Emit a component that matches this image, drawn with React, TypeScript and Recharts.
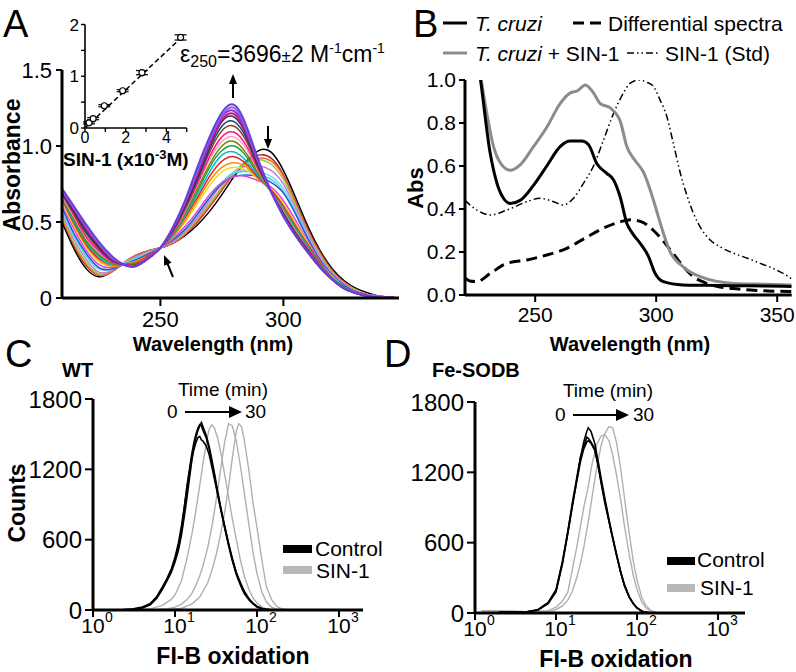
import React from 'react';
import { LineChart, Line, XAxis, YAxis, ComposedChart, Scatter, ErrorBar } from 'recharts';

const FONT = '"Liberation Sans", Arial, Helvetica, sans-serif';

// ---- Panel A: SIN-1 spectra over time (absorbance vs wavelength) ----
const A_WL = [210, 215, 220, 225, 230, 235, 240, 245, 250, 255, 260, 265, 270, 275, 280, 285, 290, 295, 300, 305, 310, 315, 320, 325, 330, 335, 340, 345];
const A_S00 = [0.50, 0.32, 0.19, 0.14, 0.17, 0.23, 0.28, 0.31, 0.33, 0.36, 0.41, 0.48, 0.57, 0.68, 0.80, 0.90, 0.97, 0.96, 0.84, 0.66, 0.47, 0.31, 0.19, 0.11, 0.06, 0.03, 0.01, 0.005];
const A_S01 = [0.52, 0.34, 0.21, 0.15, 0.17, 0.23, 0.28, 0.31, 0.33, 0.36, 0.42, 0.50, 0.60, 0.71, 0.82, 0.90, 0.94, 0.92, 0.81, 0.63, 0.45, 0.30, 0.18, 0.10, 0.05, 0.02, 0.01, 0.005];
const A_S02 = [0.53, 0.35, 0.22, 0.15, 0.17, 0.23, 0.28, 0.31, 0.33, 0.36, 0.42, 0.51, 0.61, 0.72, 0.82, 0.89, 0.92, 0.90, 0.80, 0.62, 0.44, 0.29, 0.17, 0.10, 0.05, 0.02, 0.01, 0.0];
const A_S03 = [0.54, 0.36, 0.23, 0.16, 0.18, 0.23, 0.27, 0.30, 0.33, 0.37, 0.43, 0.52, 0.62, 0.73, 0.83, 0.89, 0.91, 0.88, 0.78, 0.61, 0.43, 0.28, 0.17, 0.09, 0.05, 0.02, 0.01, 0.0];
const A_S04 = [0.56, 0.38, 0.25, 0.17, 0.18, 0.23, 0.27, 0.30, 0.33, 0.37, 0.44, 0.53, 0.64, 0.75, 0.83, 0.87, 0.87, 0.84, 0.75, 0.59, 0.42, 0.27, 0.16, 0.09, 0.04, 0.02, 0.01, 0.0];
const A_S05 = [0.58, 0.40, 0.27, 0.19, 0.19, 0.23, 0.26, 0.30, 0.33, 0.38, 0.45, 0.55, 0.66, 0.76, 0.83, 0.84, 0.83, 0.80, 0.72, 0.57, 0.40, 0.26, 0.15, 0.08, 0.04, 0.02, 0.01, 0.0];
const A_S06 = [0.59, 0.41, 0.28, 0.20, 0.19, 0.22, 0.26, 0.29, 0.33, 0.38, 0.45, 0.55, 0.66, 0.76, 0.82, 0.83, 0.81, 0.78, 0.70, 0.56, 0.39, 0.25, 0.15, 0.08, 0.04, 0.02, 0.01, 0.0];
const A_S07 = [0.60, 0.42, 0.29, 0.20, 0.19, 0.22, 0.25, 0.29, 0.33, 0.38, 0.45, 0.55, 0.66, 0.75, 0.80, 0.81, 0.80, 0.76, 0.69, 0.55, 0.39, 0.25, 0.15, 0.08, 0.04, 0.02, 0.01, 0.0];
const A_S08 = [0.62, 0.45, 0.31, 0.22, 0.20, 0.22, 0.24, 0.28, 0.33, 0.39, 0.47, 0.57, 0.68, 0.76, 0.80, 0.80, 0.77, 0.73, 0.64, 0.51, 0.37, 0.24, 0.14, 0.07, 0.04, 0.02, 0.01, 0.0];
const A_S09 = [0.63, 0.47, 0.33, 0.24, 0.21, 0.22, 0.24, 0.28, 0.33, 0.40, 0.50, 0.62, 0.74, 0.83, 0.86, 0.84, 0.78, 0.72, 0.62, 0.49, 0.36, 0.23, 0.14, 0.07, 0.03, 0.01, 0.0, 0.0];
const A_S10 = [0.64, 0.48, 0.34, 0.25, 0.21, 0.22, 0.24, 0.28, 0.33, 0.40, 0.51, 0.64, 0.77, 0.86, 0.89, 0.86, 0.78, 0.71, 0.61, 0.48, 0.35, 0.23, 0.13, 0.07, 0.03, 0.01, 0.0, 0.0];
const A_S11 = [0.65, 0.49, 0.35, 0.26, 0.22, 0.22, 0.23, 0.28, 0.33, 0.41, 0.53, 0.66, 0.80, 0.90, 0.93, 0.88, 0.79, 0.71, 0.60, 0.47, 0.35, 0.23, 0.13, 0.07, 0.03, 0.01, 0.0, 0.0];
const A_S12 = [0.65, 0.50, 0.36, 0.27, 0.22, 0.22, 0.23, 0.27, 0.33, 0.41, 0.54, 0.68, 0.83, 0.94, 0.96, 0.90, 0.80, 0.70, 0.59, 0.46, 0.34, 0.22, 0.13, 0.07, 0.03, 0.01, 0.0, 0.0];
const A_S13 = [0.66, 0.51, 0.37, 0.28, 0.23, 0.22, 0.23, 0.27, 0.33, 0.42, 0.55, 0.70, 0.86, 0.97, 1.00, 0.93, 0.81, 0.70, 0.58, 0.45, 0.33, 0.22, 0.13, 0.07, 0.03, 0.01, 0.0, 0.0];
const A_S14 = [0.66, 0.52, 0.38, 0.29, 0.23, 0.22, 0.23, 0.27, 0.33, 0.42, 0.56, 0.72, 0.88, 1.00, 1.03, 0.95, 0.82, 0.70, 0.57, 0.44, 0.33, 0.21, 0.12, 0.06, 0.03, 0.01, 0.0, 0.0];
const A_S15 = [0.67, 0.53, 0.39, 0.30, 0.24, 0.22, 0.22, 0.27, 0.33, 0.43, 0.57, 0.74, 0.91, 1.03, 1.06, 0.98, 0.83, 0.70, 0.57, 0.44, 0.32, 0.21, 0.12, 0.06, 0.03, 0.01, 0.0, 0.0];
const A_S16 = [0.68, 0.54, 0.40, 0.31, 0.24, 0.22, 0.22, 0.27, 0.33, 0.43, 0.58, 0.75, 0.93, 1.06, 1.09, 1.00, 0.84, 0.70, 0.56, 0.43, 0.32, 0.21, 0.12, 0.06, 0.03, 0.01, 0.0, 0.0];
const A_S17 = [0.69, 0.55, 0.42, 0.32, 0.25, 0.22, 0.22, 0.26, 0.33, 0.44, 0.59, 0.77, 0.96, 1.10, 1.13, 1.03, 0.85, 0.70, 0.56, 0.43, 0.31, 0.21, 0.12, 0.06, 0.03, 0.01, 0.0, 0.0];
const A_S18 = [0.69, 0.56, 0.43, 0.33, 0.25, 0.22, 0.21, 0.26, 0.33, 0.44, 0.60, 0.78, 0.98, 1.13, 1.16, 1.05, 0.86, 0.70, 0.55, 0.42, 0.31, 0.20, 0.12, 0.06, 0.03, 0.01, 0.0, 0.0];
const A_S19 = [0.70, 0.57, 0.44, 0.34, 0.26, 0.22, 0.21, 0.26, 0.33, 0.45, 0.61, 0.80, 1.00, 1.16, 1.19, 1.07, 0.87, 0.70, 0.55, 0.42, 0.31, 0.20, 0.12, 0.06, 0.03, 0.01, 0.0, 0.0];
const A_S20 = [0.70, 0.58, 0.45, 0.35, 0.26, 0.22, 0.21, 0.26, 0.33, 0.45, 0.62, 0.81, 1.01, 1.17, 1.21, 1.08, 0.88, 0.70, 0.54, 0.41, 0.30, 0.20, 0.12, 0.06, 0.03, 0.01, 0.0, 0.0];
const A_S21 = [0.71, 0.59, 0.46, 0.36, 0.27, 0.22, 0.21, 0.26, 0.33, 0.46, 0.63, 0.83, 1.03, 1.19, 1.23, 1.10, 0.89, 0.70, 0.54, 0.41, 0.30, 0.20, 0.12, 0.06, 0.03, 0.01, 0.0, 0.0];
const A_S22 = [0.71, 0.59, 0.47, 0.36, 0.27, 0.22, 0.21, 0.26, 0.33, 0.46, 0.63, 0.84, 1.04, 1.20, 1.25, 1.11, 0.89, 0.70, 0.54, 0.41, 0.30, 0.20, 0.12, 0.06, 0.03, 0.01, 0.0, 0.0];
const A_S23 = [0.72, 0.60, 0.48, 0.37, 0.28, 0.22, 0.21, 0.26, 0.33, 0.46, 0.64, 0.86, 1.06, 1.22, 1.27, 1.13, 0.90, 0.70, 0.54, 0.41, 0.30, 0.20, 0.12, 0.06, 0.03, 0.01, 0.0, 0.0];
const A_SERIES = [A_S00, A_S01, A_S02, A_S03, A_S04, A_S05, A_S06, A_S07, A_S08, A_S09, A_S10, A_S11, A_S12, A_S13, A_S14, A_S15, A_S16, A_S17, A_S18, A_S19, A_S20, A_S21, A_S22, A_S23];
const A_COLORS = ['#000000', '#b22222', '#ff6347', '#9acd32', '#c080e0', '#87cefa', '#40e0d0', '#3050e0', '#e040e0', '#f0e020', '#ff8c00', '#e02020', '#00bcd4', '#20a040', '#808000', '#f4a0c0', '#ff1493', '#8b4513', '#1e3a8a', '#303030', '#c71585', '#9b30d0', '#7b68ee', '#6a3fd8'];

// inset: absorbance at 250 nm vs [SIN-1]
const INSET_CONC = [0.2, 0.4, 0.95, 1.85, 2.8, 4.7];
const INSET_ABS = [0.1, 0.18, 0.43, 0.72, 1.07, 1.75];
const INSET_ERR = [0.02, 0.02, 0.02, 0.02, 0.04, 0.05];
const FIT_CONC = [0, 4.8];
const FIT_ABS = [0, 1.77];

// ---- Panel B ----
const B_TC_WL = [221, 224, 227.3, 231.4, 234.2, 236.9, 239.7, 243.8, 249.3, 254.8, 260.3, 264.5, 269.3, 272, 275.5, 279.6, 282.4, 285.1, 287.9, 290, 293.4, 296.8, 299.6, 303, 311, 320, 332, 345, 356];
const B_TC_ABS = [1.6, 1.25, 1.01, 0.66, 0.52, 0.45, 0.426, 0.44, 0.51, 0.60, 0.69, 0.716, 0.716, 0.70, 0.61, 0.566, 0.535, 0.457, 0.333, 0.29, 0.24, 0.18, 0.10, 0.062, 0.047, 0.045, 0.043, 0.042, 0.04];
const B_TS_WL = [221, 225, 228, 230, 232.8, 236.2, 239.7, 243.8, 249.3, 254.8, 260.3, 264.5, 267.5, 270.7, 274.1, 276.9, 281, 285.1, 287.9, 291, 294.8, 298.9, 301, 305.8, 311.3, 318.2, 332, 345, 356];
const B_TS_ABS = [1.6, 1.2, 0.98, 0.845, 0.69, 0.605, 0.58, 0.605, 0.69, 0.78, 0.89, 0.94, 0.95, 0.977, 0.94, 0.89, 0.87, 0.81, 0.69, 0.63, 0.57, 0.44, 0.36, 0.2, 0.13, 0.085, 0.054, 0.05, 0.047];
const B_DIFF_WL = [221, 223, 225.9, 231.4, 238.3, 246.6, 254.8, 263.1, 271.4, 279.6, 285, 289.3, 294, 298.9, 303, 307.2, 311, 315.4, 320, 325, 332, 338.8, 346, 356];
const B_DIFF_ABS = [0.08, 0.065, 0.062, 0.10, 0.147, 0.163, 0.186, 0.217, 0.27, 0.318, 0.34, 0.35, 0.34, 0.30, 0.25, 0.19, 0.135, 0.085, 0.058, 0.04, 0.03, 0.023, 0.019, 0.016];
const B_STD_WL = [221, 225.9, 231.4, 238.3, 246.6, 252, 257.6, 261.7, 265.8, 270, 274.1, 278.2, 282.4, 286.5, 289.3, 293, 296, 298.9, 301.5, 304.4, 307, 309.9, 312.5, 315.4, 318.5, 322.3, 327, 332, 338, 343, 348, 354, 356];
const B_STD_ABS = [0.44, 0.395, 0.372, 0.395, 0.434, 0.45, 0.434, 0.419, 0.45, 0.52, 0.60, 0.72, 0.845, 0.94, 0.985, 1.0, 0.99, 0.97, 0.91, 0.83, 0.71, 0.57, 0.47, 0.38, 0.31, 0.256, 0.22, 0.194, 0.17, 0.147, 0.125, 0.09, 0.075];

// ---- Panel C (WT) flow cytometry histograms ----
const C_CTRL_FL = [2, 3, 4, 5, 6, 7, 8, 9, 10, 11, 12, 13, 14, 15, 16, 17, 18, 19, 20, 21, 22, 24, 26, 28, 30, 33, 36, 40, 45, 50, 56, 63, 70, 80, 90, 100, 115, 130, 150];
const C_CTRL1 = [0, 5, 20, 50, 110, 190, 260, 340, 430, 540, 680, 880, 1060, 1200, 1330, 1430, 1500, 1550, 1580, 1570, 1530, 1470, 1380, 1260, 1160, 1000, 870, 720, 560, 430, 310, 220, 150, 90, 55, 30, 12, 5, 0];
const C_CTRL2 = [0, 8, 25, 55, 115, 195, 270, 350, 450, 570, 720, 880, 1040, 1180, 1290, 1370, 1430, 1470, 1480, 1450, 1440, 1400, 1330, 1230, 1130, 990, 860, 710, 550, 420, 300, 210, 140, 85, 50, 25, 10, 4, 0];
const C_CTRL3 = [0, 4, 18, 45, 100, 175, 250, 320, 410, 510, 640, 800, 960, 1120, 1270, 1390, 1470, 1530, 1570, 1600, 1560, 1490, 1400, 1290, 1180, 1020, 880, 730, 570, 440, 320, 230, 160, 95, 55, 30, 12, 5, 0];
const C_SIN_A_FL = [3, 5, 7, 9, 10, 12, 14, 16, 18, 20, 22, 24, 26, 28, 30, 33, 36, 40, 45, 50, 56, 63, 70, 80, 90, 100, 115, 130, 150, 175];
const C_SIN_A = [0, 10, 40, 90, 130, 250, 440, 640, 850, 1060, 1260, 1420, 1540, 1580, 1560, 1470, 1350, 1170, 960, 780, 600, 420, 290, 170, 100, 60, 25, 10, 3, 0];
const C_SIN_B_FL = [5, 8, 10, 12, 14, 16, 18, 20, 22, 25, 28, 32, 36, 40, 45, 50, 56, 63, 70, 80, 90, 100, 115, 130, 150, 175, 200];
const C_SIN_B = [0, 10, 25, 50, 90, 140, 210, 290, 380, 530, 700, 950, 1200, 1420, 1590, 1570, 1440, 1220, 1000, 720, 480, 310, 150, 70, 25, 8, 0];
const C_SIN_C_FL = [8, 12, 16, 20, 25, 28, 32, 36, 40, 45, 50, 56, 60, 65, 70, 80, 90, 100, 115, 130, 150, 175, 200, 250];
const C_SIN_C = [0, 15, 50, 110, 230, 330, 480, 650, 820, 1050, 1300, 1530, 1590, 1560, 1450, 1180, 900, 700, 420, 200, 90, 30, 10, 0];

// ---- Panel D (Fe-SODB) ----
const D_CTRL_FL = [2, 4, 6, 8, 10, 12, 14, 16, 18, 20, 22, 24, 25, 27, 30, 33, 36, 40, 45, 50, 56, 63, 70, 80, 90, 100, 115, 130, 150];
const D_CTRL1 = [10, 5, 25, 80, 180, 420, 680, 920, 1130, 1320, 1460, 1550, 1580, 1550, 1450, 1300, 1150, 980, 800, 650, 500, 350, 240, 140, 80, 45, 15, 5, 0];
const D_CTRL2 = [10, 5, 25, 85, 190, 430, 690, 930, 1120, 1290, 1400, 1460, 1470, 1450, 1390, 1260, 1110, 940, 780, 640, 490, 340, 230, 135, 78, 42, 15, 5, 0];
const D_CTRL3 = [10, 5, 30, 90, 200, 440, 700, 950, 1150, 1330, 1420, 1500, 1490, 1460, 1400, 1270, 1120, 960, 790, 640, 490, 345, 235, 138, 78, 43, 15, 5, 0];
const D_SIN_FL = [1.2, 3, 5, 8, 10, 12, 14, 16, 18, 20, 22, 25, 28, 32, 36, 40, 45, 50, 56, 63, 70, 80, 90, 100, 115, 130, 150, 175, 200];
const D_SIN_A = [20, 15, 10, 20, 50, 100, 180, 380, 560, 740, 900, 1080, 1280, 1440, 1510, 1520, 1470, 1350, 1170, 960, 740, 500, 320, 200, 90, 40, 15, 5, 0];
const D_SIN_B = [20, 15, 10, 10, 30, 60, 110, 190, 300, 420, 560, 780, 1000, 1250, 1430, 1530, 1590, 1580, 1450, 1230, 980, 680, 440, 280, 130, 60, 20, 5, 0];

const zip = (xs: number[], ys: number[]) => xs.map((x, i) => ({ x, y: ys[i] }));

const aRows = A_WL.map((x, i) => {
  const row: Record<string, number> = { x };
  A_SERIES.forEach((s, k) => { row['s' + k] = s[i]; });
  return row;
});
const insetPts = INSET_CONC.map((x, i) => ({ x, y: INSET_ABS[i], err: INSET_ERR[i] }));

const axisThick = { stroke: '#000', strokeWidth: 3 };
const tickThick = { stroke: '#000', strokeWidth: 2 };

const PowTick = (props: any) => {
  const { x, y, payload } = props;
  const e = Math.round(Math.log10(payload.value));
  return (
    <g>
      <text x={x} y={y + 14} textAnchor="middle" fontSize={21} fontFamily={FONT} fill="#000">10</text>
      <text x={x + 12} y={y + 3} fontSize={14} fontFamily={FONT} fill="#000">{e}</text>
    </g>
  );
};

function Arrow({ x1, y1, x2, y2, len = 10, half = 4, w = 2 }: any) {
  const dx = x2 - x1, dy = y2 - y1;
  const d = Math.hypot(dx, dy);
  const ux = dx / d, uy = dy / d;
  const bx = x2 - ux * len, by = y2 - uy * len;
  const pts = `${x2},${y2} ${bx - uy * half},${by + ux * half} ${bx + uy * half},${by - ux * half}`;
  return (
    <g>
      <line x1={x1} y1={y1} x2={bx + ux} y2={by + uy} stroke="#000" strokeWidth={w} />
      <polygon points={pts} fill="#000" />
    </g>
  );
}

function Histogram({ left, top, width, height, margin, domainMax, ctrl, sin }: any) {
  return (
    <div style={{ position: 'absolute', left, top }}>
      <LineChart width={width} height={height} margin={margin}>
        <XAxis type="number" dataKey="x" scale="log" domain={[1, domainMax]} allowDataOverflow
          ticks={[1, 10, 100, 1000]} tick={<PowTick />} axisLine={axisThick} tickLine={tickThick}
          tickSize={7} tickMargin={2} height={30} />
        <YAxis type="number" domain={[0, 1800]} ticks={[0, 600, 1200, 1800]} width={60}
          axisLine={axisThick} tickLine={tickThick} tickSize={8} tickMargin={3}
          tick={{ fill: '#000', fontSize: 24, fontFamily: FONT }} />
        {sin.map((d: any, i: number) => (
          <Line key={'s' + i} data={d} dataKey="y" type="linear" stroke="#b0b0b0" strokeWidth={1.4} dot={false} isAnimationActive={false} />
        ))}
        {ctrl.map((d: any, i: number) => (
          <Line key={'c' + i} data={d} dataKey="y" type="linear" stroke="#000" strokeWidth={1.6} dot={false} isAnimationActive={false} />
        ))}
      </LineChart>
    </div>
  );
}

export default function App() {
  return (
    <div style={{ position: 'absolute', left: 0, top: 0, width: 796, height: 672, background: '#fff', overflow: 'hidden', fontFamily: FONT }}>
      {/* Panel A main */}
      <div style={{ position: 'absolute', left: 0, top: 0 }}>
        <LineChart width={400} height={354} data={aRows} margin={{ top: 70, right: 1, left: 12, bottom: 0 }}>
          <XAxis type="number" dataKey="x" domain={[210, 347]} ticks={[250, 300]} allowDataOverflow
            axisLine={axisThick} tickLine={tickThick} tickSize={8} tickMargin={5} height={56}
            tick={{ fill: '#000', fontSize: 22, fontFamily: FONT }} />
          <YAxis type="number" domain={[0, 1.5]} ticks={[0, 0.5, 1, 1.5]} width={50}
            tickFormatter={(v: number) => (v === 0 ? '0' : v.toFixed(1))}
            axisLine={axisThick} tickLine={tickThick} tickSize={6} tickMargin={4}
            tick={{ fill: '#000', fontSize: 22, fontFamily: FONT }} />
          {A_SERIES.map((_, k) => (
            <Line key={k} dataKey={'s' + k} type="natural" stroke={A_COLORS[k]} strokeWidth={k >= 20 ? 2 : 1.5}
              dot={false} isAnimationActive={false} />
          ))}
        </LineChart>
      </div>

      {/* Panel A inset */}
      <div style={{ position: 'absolute', left: 40, top: 0 }}>
        <ComposedChart width={150} height={148} margin={{ top: 24.5, right: 3.3, left: 15, bottom: 0 }}>
          <XAxis type="number" dataKey="x" domain={[0, 5]} ticks={[0, 1, 2, 3, 4, 5]}
            tickFormatter={(v: number) => (v % 2 === 0 ? String(v) : '')}
            axisLine={{ stroke: '#000', strokeWidth: 1.6 }} tickLine={{ stroke: '#000', strokeWidth: 1.4 }}
            tickSize={4} tickMargin={0} height={20} tick={{ fill: '#000', fontSize: 16, fontFamily: FONT }} />
          <YAxis type="number" dataKey="y" domain={[0, 2]} ticks={[0, 0.5, 1, 1.5, 2]} width={30}
            tickFormatter={(v: number) => (Number.isInteger(v) ? String(v) : '')}
            axisLine={{ stroke: '#000', strokeWidth: 1.6 }} tickLine={{ stroke: '#000', strokeWidth: 1.4 }}
            tickSize={4} tickMargin={2} tick={{ fill: '#000', fontSize: 17, fontFamily: FONT }} />
          <Line data={zip(FIT_CONC, FIT_ABS)} dataKey="y" type="linear" stroke="#000" strokeWidth={1.5}
            strokeDasharray="5 3" dot={false} isAnimationActive={false} />
          <Scatter data={insetPts} dataKey="y" isAnimationActive={false}
            shape={(p: any) => <circle cx={p.cx} cy={p.cy} r={3} fill="#fff" stroke="#000" strokeWidth={1.2} />}>
            <ErrorBar dataKey="err" direction="y" width={6} stroke="#000" strokeWidth={1.2} />
          </Scatter>
        </ComposedChart>
      </div>

      {/* Panel B */}
      <div style={{ position: 'absolute', left: 400, top: 0 }}>
        <LineChart width={396} height={335} margin={{ top: 80, right: 4.3, left: 15, bottom: 0 }}>
          <XAxis type="number" dataKey="x" domain={[221, 356]} ticks={[250, 300, 350]} allowDataOverflow
            axisLine={axisThick} tickLine={tickThick} tickSize={7} tickMargin={5} height={40}
            tick={{ fill: '#000', fontSize: 21, fontFamily: FONT }} />
          <YAxis type="number" domain={[0, 1]} ticks={[0, 0.2, 0.4, 0.6, 0.8, 1]} allowDataOverflow width={50}
            tickFormatter={(v: number) => v.toFixed(1)}
            axisLine={axisThick} tickLine={tickThick} tickSize={6} tickMargin={3}
            tick={{ fill: '#000', fontSize: 21, fontFamily: FONT }} />
          <Line data={zip(B_STD_WL, B_STD_ABS)} dataKey="y" type="monotone" stroke="#000" strokeWidth={1.5}
            strokeDasharray="7 3 1.5 3 1.5 3" dot={false} isAnimationActive={false} />
          <Line data={zip(B_DIFF_WL, B_DIFF_ABS)} dataKey="y" type="monotone" stroke="#000" strokeWidth={3}
            strokeDasharray="11 6" dot={false} isAnimationActive={false} />
          <Line data={zip(B_TS_WL, B_TS_ABS)} dataKey="y" type="monotone" stroke="#8c8c8c" strokeWidth={3}
            dot={false} isAnimationActive={false} />
          <Line data={zip(B_TC_WL, B_TC_ABS)} dataKey="y" type="monotone" stroke="#000" strokeWidth={3}
            dot={false} isAnimationActive={false} />
        </LineChart>
      </div>

      {/* Panel C */}
      <Histogram left={0} top={330} width={400} height={310} domainMax={1960}
        margin={{ top: 69, right: 37, left: 33, bottom: 0 }}
        ctrl={[zip(C_CTRL_FL, C_CTRL1), zip(C_CTRL_FL, C_CTRL2), zip(C_CTRL_FL, C_CTRL3)]}
        sin={[zip(C_SIN_A_FL, C_SIN_A), zip(C_SIN_B_FL, C_SIN_B), zip(C_SIN_C_FL, C_SIN_C)]} />

      {/* Panel D */}
      <Histogram left={400} top={330} width={396} height={313} domainMax={2150}
        margin={{ top: 72, right: 51, left: 15, bottom: 0 }}
        ctrl={[zip(D_CTRL_FL, D_CTRL1), zip(D_CTRL_FL, D_CTRL2), zip(D_CTRL_FL, D_CTRL3)]}
        sin={[zip(D_SIN_FL, D_SIN_A), zip(D_SIN_FL, D_SIN_B)]} />

      {/* labels, legends and annotations */}
      <svg width={796} height={672} style={{ position: 'absolute', left: 0, top: 0, pointerEvents: 'none' }} fontFamily={FONT}>
        <text x={3} y={37} fontSize={38}>A</text>
        <text x={413} y={37} fontSize={38}>B</text>
        <text x={5} y={367} fontSize={38}>C</text>
        <text x={384} y={367} fontSize={38}>D</text>

        <text transform="translate(12,165) rotate(-90)" textAnchor="middle" dominantBaseline="central" fontSize={23} fontWeight="bold">Absorbance</text>
        <text x={213} y={351} textAnchor="middle" fontSize={20} fontWeight="bold">Wavelength (nm)</text>
        <text x={63} y={166} fontSize={19} fontWeight="bold">SIN-1 (x10<tspan fontSize={13} dy={-7}>-3</tspan><tspan dy={7}>M)</tspan></text>
        <text x={180} y={62} fontSize={23}>
          ε<tspan fontSize={16} dy={5}>250</tspan><tspan dy={-5}>=3696</tspan><tspan fontSize={17}>±</tspan>2 M<tspan fontSize={14} dy={-9}>-1</tspan><tspan dy={9}>cm</tspan><tspan fontSize={14} dy={-9}>-1</tspan>
        </text>
        <Arrow x1={233} y1={98} x2={233} y2={74} len={10} half={4} w={2} />
        <Arrow x1={268} y1={126} x2={268} y2={149} len={10} half={4} w={2} />
        <Arrow x1={173} y1={277} x2={164} y2={255} len={10} half={4} w={2} />

        {/* B legend */}
        <line x1={443} y1={23} x2={467} y2={23} stroke="#000" strokeWidth={3} />
        <text x={475} y={31} fontSize={21} fontStyle="italic">T. cruzi</text>
        <line x1={573} y1={23} x2={601} y2={23} stroke="#000" strokeWidth={3} strokeDasharray="11 6" />
        <text x={608} y={31} fontSize={21}>Differential spectra</text>
        <line x1={443} y1={53} x2={467} y2={53} stroke="#8c8c8c" strokeWidth={3} />
        <text x={475} y={61} fontSize={21}><tspan fontStyle="italic">T. cruzi</tspan> + SIN-1</text>
        <line x1={627} y1={53} x2={658} y2={53} stroke="#000" strokeWidth={1.5} strokeDasharray="7 3 1.5 3 1.5 3" />
        <text x={665} y={61} fontSize={21}>SIN-1 (Std)</text>
        <text transform="translate(415,188) rotate(-90)" textAnchor="middle" dominantBaseline="central" fontSize={22} fontWeight="bold">Abs</text>
        <text x={630} y={351} textAnchor="middle" fontSize={20} fontWeight="bold">Wavelength (nm)</text>

        {/* C */}
        <text x={62} y={377} fontSize={20} fontWeight="bold">WT</text>
        <text transform="translate(17,503) rotate(-90)" textAnchor="middle" dominantBaseline="central" fontSize={23} fontWeight="bold">Counts</text>
        <text x={233} y={664} textAnchor="middle" fontSize={23} fontWeight="bold">FI-B oxidation</text>
        <text x={223} y={396} textAnchor="middle" fontSize={19}>Time (min)</text>
        <text x={167} y={418} fontSize={19}>0</text>
        <Arrow x1={185} y1={412} x2={242} y2={412} len={13} half={6} w={2} />
        <text x={245} y={418} fontSize={19}>30</text>
        <rect x={283} y={545} width={29} height={8} fill="#000" />
        <text x={315} y={556} fontSize={21}>Control</text>
        <rect x={283} y={566} width={29} height={8} fill="#b8b8b8" />
        <text x={316} y={578} fontSize={21}>SIN-1</text>

        {/* D */}
        <text x={432} y={377} fontSize={20} fontWeight="bold">Fe-SODB</text>
        <text x={616} y={667} textAnchor="middle" fontSize={23} fontWeight="bold">FI-B oxidation</text>
        <text x={608} y={397} textAnchor="middle" fontSize={19}>Time (min)</text>
        <text x={555} y={421} fontSize={19}>0</text>
        <Arrow x1={573} y1={415} x2={629} y2={415} len={13} half={6} w={2} />
        <text x={633} y={421} fontSize={19}>30</text>
        <rect x={667} y={557} width={28} height={8} fill="#000" />
        <text x={697} y={567} fontSize={21}>Control</text>
        <rect x={667} y={584} width={28} height={8} fill="#b8b8b8" />
        <text x={700} y={595} fontSize={21}>SIN-1</text>
      </svg>
    </div>
  );
}
